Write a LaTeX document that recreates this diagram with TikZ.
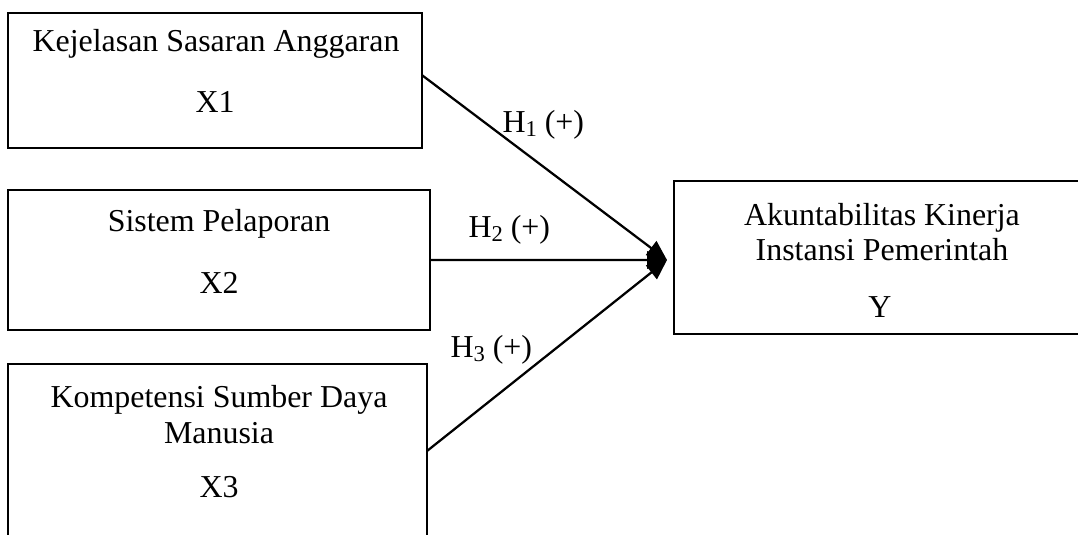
\documentclass[tikz,border=0pt]{standalone}
\usepackage{fontspec}
\setmainfont{Liberation Serif}
\usetikzlibrary{arrows.meta,calc}
\tikzstyle{varbox}=[draw, line width=0.55pt, rectangle, inner sep=0pt, outer sep=0pt, anchor=north west]
\tikzstyle{vartext}=[anchor=base, align=center, inner sep=0pt, font=\fontsize{12}{13.5}\selectfont]
\tikzstyle{hyplabel}=[anchor=base west, inner sep=0pt, font=\fontsize{12}{13.5}\selectfont]
\tikzstyle{hyparrow}=[line width=0.85pt, -{Triangle[length=7.5pt, width=6.5pt]}]
\newcommand{\hypsub}[1]{\raisebox{-1.2pt}{\fontsize{8.5}{8.5}\selectfont #1}}

\begin{document}
\begin{tikzpicture}[x=0.376pt, y=-0.376pt]
	\useasboundingbox (0,0) rectangle (1078,535);
	\clip (0,0) rectangle (1078,535);
	% variable boxes
	\node[varbox, minimum width=155.7pt, minimum height=50.8pt] (x1) at (8,13) {};
	\node[varbox, minimum width=158.7pt, minimum height=52.6pt] (x2) at (8,190) {};
	\node[varbox, minimum width=157.5pt, minimum height=68.1pt] (x3) at (8,364) {};
	\node[varbox, minimum width=156.4pt, minimum height=57.5pt] (y) at (674,181) {};
	% box texts
	\node[vartext] (x1name) at (216,52) {Kejelasan Sasaran Anggaran};
	\node[vartext] (x1sym) at (215,113) {X1};
	\node[vartext] (x2name) at (219,232) {Sistem Pelaporan};
	\node[vartext] (x2sym) at (219,294) {X2};
	\node[vartext] (x3name) at (219,443) {Kompetensi Sumber Daya\\Manusia};
	\node[vartext] (x3sym) at (219,497) {X3};
	\node[vartext] (yname) at (882,261) {Akuntabilitas Kinerja\\Instansi Pemerintah};
	\node[vartext] (ysym) at (880,318) {Y};
	% hypotheses
	\coordinate (tip) at (667,260);
	\draw[hyparrow] ([yshift=2pt]x1.east) -- (tip);
	\draw[hyparrow] (x2.east) -- (tip);
	\draw[hyparrow] ([yshift=1.3pt]x3.east) -- (tip);
	\node[hyplabel] (h1) at (502,133) {H\hypsub{1} (+)};
	\node[hyplabel] (h2) at (468,238) {H\hypsub{2} (+)};
	\node[hyplabel] (h3) at (450,358) {H\hypsub{3} (+)};
\end{tikzpicture}
\end{document}
